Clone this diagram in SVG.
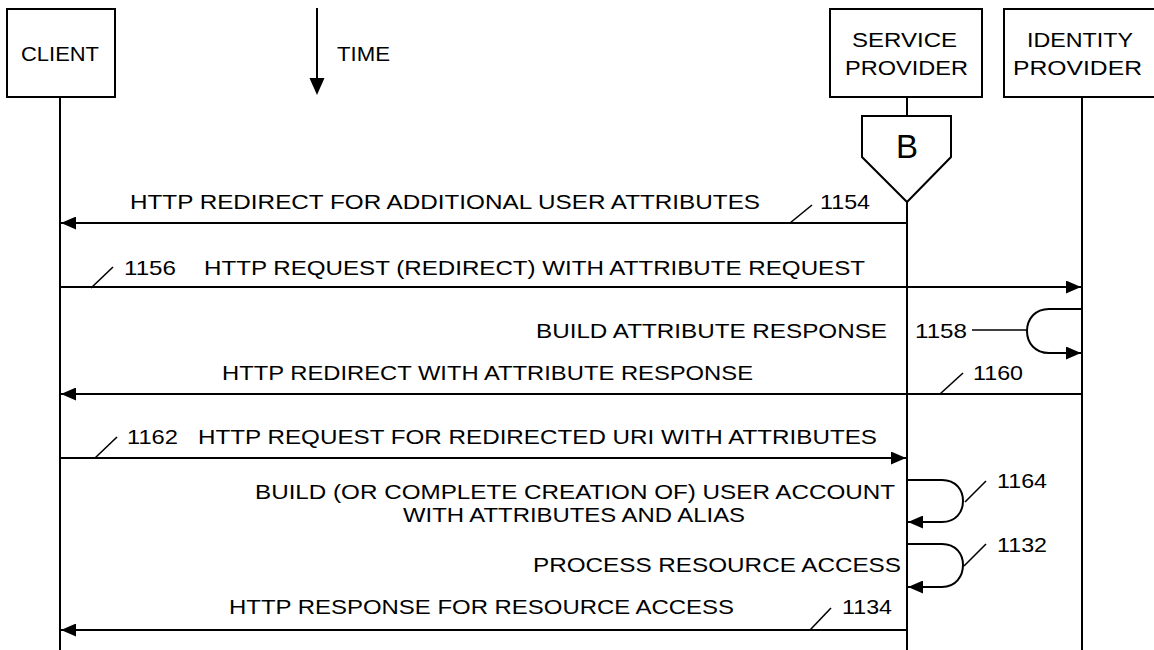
<svg xmlns="http://www.w3.org/2000/svg" width="1154" height="650" viewBox="0 0 1154 650">
<defs>
<style>
.t{font-family:"Liberation Sans",Arial,Helvetica,sans-serif;font-size:21px;fill:#000}
.box{fill:#fff;stroke:#000;stroke-width:2}
.life{stroke:#000;stroke-width:2;fill:none}
.msg{stroke:#000;stroke-width:2;fill:none}
.lead{stroke:#000;stroke-width:1.6;fill:none}
</style>
<marker id="ah" viewBox="0 0 15 13" refX="15" refY="6.5" markerWidth="15" markerHeight="13" orient="auto" markerUnits="userSpaceOnUse">
<path d="M0,0 L15,6.5 L0,13 z" fill="#000"/>
</marker>
</defs>
<rect width="1154" height="650" fill="#fff"/>

<g id="client">
<rect class="box" x="7" y="9" width="108" height="88"/>
<text class="t" x="21" y="61" textLength="78" lengthAdjust="spacingAndGlyphs">CLIENT</text>
<line class="life" x1="60" y1="97" x2="60" y2="650"/>
</g>

<g id="time">
<line class="life" x1="317" y1="8" x2="317" y2="80"/>
<path d="M309.5,78 L324.5,78 L317,95 z" fill="#000"/>
<text class="t" x="337" y="61" textLength="53" lengthAdjust="spacingAndGlyphs">TIME</text>
</g>

<g id="service-provider">
<rect class="box" x="830" y="9" width="152" height="88"/>
<text class="t" x="852" y="47" textLength="105" lengthAdjust="spacingAndGlyphs">SERVICE</text>
<text class="t" x="845" y="75" textLength="123" lengthAdjust="spacingAndGlyphs">PROVIDER</text>
<line class="life" x1="907" y1="97" x2="907" y2="116"/>
<line class="life" x1="907" y1="202" x2="907" y2="650"/>
</g>

<g id="connector-b">
<path class="box" d="M862,116 H951 V157 L907,202 L862,157 z"/>
<text class="t" x="907" y="158" text-anchor="middle" style="font-size:33px">B</text>
</g>

<g id="identity-provider">
<rect class="box" x="1004" y="9" width="170" height="88"/>
<text class="t" x="1027" y="47" textLength="106" lengthAdjust="spacingAndGlyphs">IDENTITY</text>
<text class="t" x="1013" y="75" textLength="129" lengthAdjust="spacingAndGlyphs">PROVIDER</text>
<line class="life" x1="1082" y1="97" x2="1082" y2="650"/>
</g>

<g id="connectors">
<!-- 1154 -->
<line class="msg" x1="907" y1="223" x2="61" y2="223" marker-end="url(#ah)"/>
<text class="t" x="130" y="209" textLength="630" lengthAdjust="spacingAndGlyphs">HTTP REDIRECT FOR ADDITIONAL USER ATTRIBUTES</text>
<line class="lead" x1="790" y1="223" x2="812" y2="205"/>
<text class="t" x="820" y="209" textLength="50" lengthAdjust="spacingAndGlyphs">1154</text>

<!-- 1156 -->
<line class="msg" x1="60" y1="287" x2="1081" y2="287" marker-end="url(#ah)"/>
<line class="lead" x1="91" y1="288" x2="113" y2="267"/>
<text class="t" x="124" y="275" textLength="52" lengthAdjust="spacingAndGlyphs">1156</text>
<text class="t" x="204" y="275" textLength="661" lengthAdjust="spacingAndGlyphs">HTTP REQUEST (REDIRECT) WITH ATTRIBUTE REQUEST</text>

<!-- 1158 -->
<text class="t" x="536" y="338" textLength="351" lengthAdjust="spacingAndGlyphs">BUILD ATTRIBUTE RESPONSE</text>
<text class="t" x="915" y="338" textLength="52" lengthAdjust="spacingAndGlyphs">1158</text>
<line class="lead" x1="972" y1="330" x2="1028" y2="330"/>
<path class="msg" d="M1082,309 H1049 C1035,309 1027,319 1027,331 C1027,343 1035,353 1049,353 H1081" marker-end="url(#ah)"/>

<!-- 1160 -->
<line class="msg" x1="1082" y1="394" x2="61" y2="394" marker-end="url(#ah)"/>
<text class="t" x="222" y="380" textLength="531" lengthAdjust="spacingAndGlyphs">HTTP REDIRECT WITH ATTRIBUTE RESPONSE</text>
<line class="lead" x1="940" y1="394" x2="963" y2="373"/>
<text class="t" x="973" y="380" textLength="50" lengthAdjust="spacingAndGlyphs">1160</text>

<!-- 1162 -->
<line class="msg" x1="60" y1="458" x2="906" y2="458" marker-end="url(#ah)"/>
<line class="lead" x1="95" y1="458" x2="117" y2="437"/>
<text class="t" x="127" y="444" textLength="51" lengthAdjust="spacingAndGlyphs">1162</text>
<text class="t" x="198" y="444" textLength="679" lengthAdjust="spacingAndGlyphs">HTTP REQUEST FOR REDIRECTED URI WITH ATTRIBUTES</text>

<!-- 1164 -->
<text class="t" x="255" y="499" textLength="640" lengthAdjust="spacingAndGlyphs">BUILD (OR COMPLETE CREATION OF) USER ACCOUNT</text>
<text class="t" x="403" y="522" textLength="342" lengthAdjust="spacingAndGlyphs">WITH ATTRIBUTES AND ALIAS</text>
<path class="msg" d="M907,480 H942 C956,480 963,490 963,501 C963,512 956,522 942,522 H908" marker-end="url(#ah)"/>
<line class="lead" x1="965" y1="502" x2="986" y2="481"/>
<text class="t" x="997" y="488" textLength="50" lengthAdjust="spacingAndGlyphs">1164</text>

<!-- 1132 -->
<text class="t" x="533" y="572" textLength="368" lengthAdjust="spacingAndGlyphs">PROCESS RESOURCE ACCESS</text>
<path class="msg" d="M907,544 H942 C956,544 963,554 963,565 C963,576 956,587 942,587 H908" marker-end="url(#ah)"/>
<line class="lead" x1="964" y1="566" x2="986" y2="544"/>
<text class="t" x="997" y="552" textLength="50" lengthAdjust="spacingAndGlyphs">1132</text>

<!-- 1134 -->
<line class="msg" x1="907" y1="630" x2="61" y2="630" marker-end="url(#ah)"/>
<text class="t" x="229" y="614" textLength="505" lengthAdjust="spacingAndGlyphs">HTTP RESPONSE FOR RESOURCE ACCESS</text>
<line class="lead" x1="810" y1="630" x2="831" y2="608"/>
<text class="t" x="842" y="614" textLength="50" lengthAdjust="spacingAndGlyphs">1134</text>
</g>
</svg>
